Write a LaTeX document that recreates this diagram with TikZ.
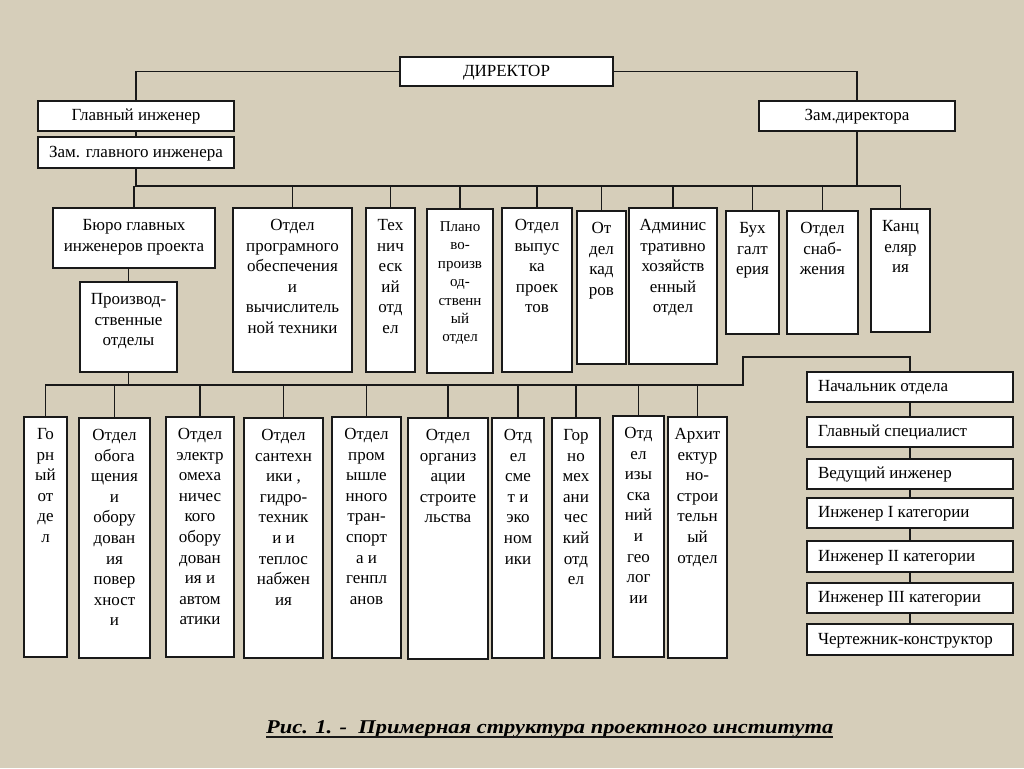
\documentclass[tikz,border=0pt]{standalone}
\usepackage{fontspec}
\setmainfont{Liberation Serif}
\newfontfamily\capfont[FakeStretch=1.15]{Liberation Serif}
\definecolor{bgc}{RGB}{214,206,186}
\definecolor{inkc}{RGB}{25,25,25}
\pgfdeclarelayer{bglayer}
\pgfdeclarelayer{lines}
\pgfsetlayers{bglayer,lines,main}
\tikzset{
  bx/.style={draw=inkc, fill=white, line width=1.3pt, inner sep=0pt, outer sep=0pt,
    font=\fontsize{17}{20.6}\selectfont},
  smallfont/.style={font=\fontsize{15}{18.4}\selectfont},
  ln/.style={draw=inkc, line width=1.4pt},
}
% top-aligned, centred multi-line box
\newcommand\tb[7][]{%
  \pgfmathsetmacro\bw{#5-#3}\pgfmathsetmacro\bh{#6-#4}%
  \node[bx,#1,minimum width=\bw pt,minimum height=\bh pt] (#2) at ({(#3+#5)/2},{(#4+#6)/2})
    {\parbox[c][\bh pt][t]{\bw pt}{\centering\rule{0pt}{22.5pt}#7\par}};}
% single-line centred box
\newcommand\cb[7][]{%
  \pgfmathsetmacro\bw{#5-#3}\pgfmathsetmacro\bh{#6-#4}%
  \node[bx,#1,minimum width=\bw pt,minimum height=\bh pt] (#2) at ({(#3+#5)/2},{(#4+#6)/2})
    {\parbox[c][\bh pt][c]{\bw pt}{\centering\rule[-4pt]{0pt}{17pt}#7\par}};}
% single-line left-aligned box
\newcommand\lb[7][]{%
  \pgfmathsetmacro\bw{#5-#3}\pgfmathsetmacro\bh{#6-#4}%
  \node[bx,#1,minimum width=\bw pt,minimum height=\bh pt] (#2) at ({(#3+#5)/2},{(#4+#6)/2})
    {\parbox[c][\bh pt][c]{\bw pt}{\hspace*{11pt}\rule[-4pt]{0pt}{17pt}#7\par}};}
\begin{document}
\begin{tikzpicture}[x=1pt,y=-1pt]
\useasboundingbox (0,0) rectangle (1024,768);
\begin{pgfonlayer}{bglayer}
  \fill[bgc] (0,0) rectangle (1024,768);
\end{pgfonlayer}

% --- top level
\cb{dir}{400}{57}{613}{86}{ДИРЕКТОР}
\cb{gi}{38}{101}{234}{131}{Главный инженер}
\cb{zgi}{38}{137}{234}{168}{Зам. главного инженера}
\cb{zd}{759}{101}{955}{131}{Зам.директора}

% --- middle row
\tb{buro}{53}{208}{215}{268}{Бюро главных\\инженеров проекта}
\tb{proiz}{80}{282}{177}{372}{Производ-\\ственные\\отделы}
\tb{prog}{233}{208}{352}{372}{Отдел\\програмного\\обеспечения\\и\\вычислитель\\ной техники}
\tb{tech}{366}{208}{415}{372}{Тех\\нич\\еск\\ий\\отд\\ел}
\tb[smallfont]{plano}{427}{209}{493}{373}{Плано\\во-\\произв\\од-\\ственн\\ый\\отдел}
\tb{vyp}{502}{208}{572}{372}{Отдел\\выпус\\ка\\проек\\тов}
\tb{kadr}{577}{211}{626}{364}{От\\дел\\кад\\ров}
\tb{adm}{629}{208}{717}{364}{Админис\\тративно\\хозяйств\\енный\\отдел}
\tb{buh}{726}{211}{779}{334}{Бух\\галт\\ерия}
\tb{snab}{787}{211}{858}{334}{Отдел\\снаб-\\жения}
\tb{kanc}{871}{209}{930}{332}{Канц\\еляр\\ия}

% --- bottom row
\tb{gor}{24}{417}{67}{657}{Го\\рн\\ый\\от\\де\\л}
\tb{obog}{79}{418}{150}{658}{Отдел\\обога\\щения\\и\\обору\\дован\\ия\\повер\\хност\\и}
\tb{elek}{166}{417}{234}{657}{Отдел\\электр\\омеха\\ничес\\кого\\обору\\дован\\ия и\\автом\\атики}
\tb{sant}{244}{418}{323}{658}{Отдел\\сантехн\\ики ,\\гидро-\\техник\\и и\\теплос\\набжен\\ия}
\tb{prom}{332}{417}{401}{658}{Отдел\\пром\\ышле\\нного\\тран-\\спорт\\а и\\генпл\\анов}
\tb{org}{408}{418}{488}{659}{Отдел\\организ\\ации\\строите\\льства}
\tb{smet}{492}{418}{544}{658}{Отд\\ел\\сме\\т и\\эко\\ном\\ики}
\tb{gmeh}{552}{418}{600}{658}{Гор\\но\\мех\\ани\\чес\\кий\\отд\\ел}
\tb{izy}{613}{416}{664}{657}{Отд\\ел\\изы\\ска\\ний\\и\\гео\\лог\\ии}
\tb{arch}{668}{417}{727}{658}{Архит\\ектур\\но-\\строи\\тельн\\ый\\отдел}

% --- right column
\lb{r1}{807}{372}{1013}{402}{Начальник отдела}
\lb{r2}{807}{417}{1013}{447}{Главный специалист}
\lb{r3}{807}{459}{1013}{489}{Ведущий инженер}
\lb{r4}{807}{498}{1013}{528}{Инженер I категории}
\lb{r5}{807}{541}{1013}{572}{Инженер II категории}
\lb{r6}{807}{583}{1013}{613}{Инженер III категории}
\lb{r7}{807}{624}{1013}{655}{Чертежник-конструктор}

% --- caption
\node[inner sep=0pt, anchor=base west, font=\capfont\fontsize{19.5}{23}\selectfont\bfseries\itshape]
  (cap) at (266,733) {Рис. 1. -\ \ Примерная структура проектного института};

% --- connectors
\coordinate (ub) at (0,186);
\coordinate (lb) at (0,385);
\coordinate (lbR) at (743,385);
\coordinate (turn) at (743,357);
\begin{pgfonlayer}{lines}
  \draw[ln] (dir.west) -| (gi.north);
  \draw[ln] (gi.south) -- (zgi.north);
  \draw[ln] (dir.east) -| (zd.north);
  \draw[ln] (zgi.south) |- (kanc.north |- ub) -- (kanc.north);
  \draw[ln] (zd.south) -- (zd.south |- ub);
  \foreach \n in {buro,prog,tech,plano,vyp,kadr,adm,buh,snab}
    \draw[ln] (\n.north |- ub) -- (\n.north);
  \draw[ln] (buro.south -| proiz.north) -- (proiz.north);
  \draw[ln] (proiz.south) -- (proiz.south |- lb);
  \draw[ln] (gor.north) |- (lbR) -- (turn) -| (r1.north);
  \foreach \n in {obog,elek,sant,prom,org,smet,gmeh,izy,arch}
    \draw[ln] (\n.north |- lb) -- (\n.north);
  \foreach \a/\b in {r1/r2,r2/r3,r3/r4,r4/r5,r5/r6,r6/r7}
    \draw[ln] (\a.south) -- (\b.north);
\end{pgfonlayer}
\draw[draw=inkc, line width=1.8pt] ([yshift=-4.3pt]cap.base west) -- ([yshift=-4.3pt]cap.base east);
\end{tikzpicture}
\end{document}
